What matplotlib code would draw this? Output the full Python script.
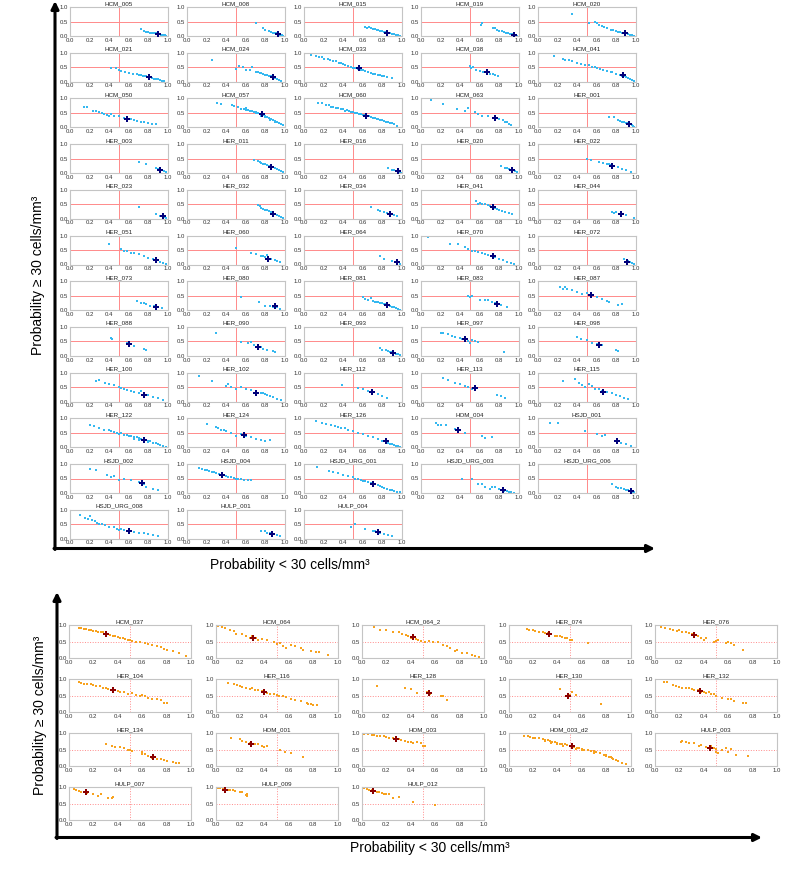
"""==============================================================
# Libraries
=============================================================="""
import matplotlib
matplotlib.use("Agg")
import matplotlib.pyplot as plt
from matplotlib.ticker import FormatStrFormatter

"""==============================================================
# Data (read from the reference picture)
=============================================================="""
# upper block (blue), 5 columns
top_names = [
    "HCM_005", "HCM_008", "HCM_015", "HCM_019", "HCM_020",
    "HCM_021", "HCM_024", "HCM_033", "HCM_038", "HCM_041",
    "HCM_050", "HCM_057", "HCM_060", "HCM_063", "HER_001",
    "HER_003", "HER_011", "HER_016", "HER_020", "HER_022",
    "HER_023", "HER_032", "HER_034", "HER_041", "HER_044",
    "HER_051", "HER_060", "HER_064", "HER_070", "HER_072",
    "HER_073", "HER_080", "HER_081", "HER_083", "HER_087",
    "HER_088", "HER_090", "HER_093", "HER_097", "HER_098",
    "HER_100", "HER_102", "HER_112", "HER_113", "HER_115",
    "HER_122", "HER_124", "HER_126", "HOM_004", "HSJD_001",
    "HSJD_002", "HSJD_004", "HSJD_URG_001", "HSJD_URG_003", "HSJD_URG_006",
    "HSJD_URG_008", "HULP_001", "HULP_004",
]

top_x = [
    [0.72, 0.76, 0.78, 0.80, 0.82, 0.84, 0.86, 0.88, 0.90, 0.91, 0.92, 0.93, 0.94, 0.95, 0.96, 0.97, 0.98],
    [0.70, 0.78, 0.80, 0.84, 0.86, 0.88, 0.90, 0.91, 0.92, 0.93, 0.94, 0.95, 0.96, 0.97, 0.98],
    [0.62, 0.64, 0.66, 0.68, 0.70, 0.72, 0.74, 0.76, 0.78, 0.80, 0.82, 0.84, 0.86, 0.88, 0.90, 0.92, 0.94, 0.96, 0.98],
    [0.61, 0.62, 0.73, 0.75, 0.78, 0.80, 0.83, 0.85, 0.87, 0.89, 0.91, 0.93, 0.95, 0.96, 0.97, 0.98],
    [0.35, 0.52, 0.58, 0.60, 0.62, 0.65, 0.67, 0.70, 0.74, 0.77, 0.80, 0.82, 0.84, 0.86, 0.88, 0.90, 0.92, 0.94, 0.96, 0.98],
    [0.42, 0.47, 0.50, 0.52, 0.56, 0.60, 0.64, 0.68, 0.70, 0.72, 0.74, 0.76, 0.78, 0.80, 0.82, 0.84, 0.86, 0.88, 0.90, 0.92, 0.94, 0.96],
    [0.25, 0.50, 0.53, 0.57, 0.60, 0.64, 0.66, 0.70, 0.72, 0.74, 0.76, 0.78, 0.80, 0.82, 0.84, 0.86, 0.88, 0.90, 0.92, 0.94, 0.96],
    [0.07, 0.12, 0.15, 0.18, 0.20, 0.24, 0.27, 0.30, 0.33, 0.36, 0.38, 0.40, 0.42, 0.45, 0.48, 0.50, 0.52, 0.55, 0.58, 0.60,
     0.62, 0.65, 0.68, 0.70, 0.72, 0.75, 0.78, 0.80, 0.82, 0.85, 0.90],
    [0.50, 0.51, 0.53, 0.56, 0.60, 0.63, 0.67, 0.70, 0.73, 0.76, 0.79],
    [0.16, 0.25, 0.28, 0.32, 0.35, 0.40, 0.44, 0.48, 0.52, 0.55, 0.58, 0.60, 0.63, 0.66, 0.70, 0.74, 0.76, 0.80, 0.84, 0.86,
     0.88, 0.90, 0.92, 0.94, 0.96, 0.98],
    [0.14, 0.17, 0.23, 0.27, 0.30, 0.33, 0.35, 0.38, 0.40, 0.42, 0.45, 0.50, 0.55, 0.58, 0.62, 0.65, 0.68, 0.72, 0.76, 0.80, 0.84, 0.88],
    [0.31, 0.35, 0.46, 0.48, 0.52, 0.55, 0.58, 0.60, 0.62, 0.64, 0.66, 0.68, 0.70, 0.72, 0.74, 0.76, 0.78, 0.80, 0.82, 0.84,
     0.86, 0.88, 0.90, 0.92, 0.94, 0.96, 0.98, 0.60, 0.65, 0.70, 0.75, 0.80, 0.85, 0.90],
    [0.14, 0.18, 0.22, 0.25, 0.28, 0.30, 0.33, 0.35, 0.38, 0.40, 0.42, 0.44, 0.46, 0.48, 0.50, 0.52, 0.54, 0.56, 0.58, 0.60,
     0.62, 0.64, 0.66, 0.68, 0.70, 0.72, 0.74, 0.76, 0.78, 0.80, 0.82, 0.84, 0.86, 0.88, 0.90, 0.92, 0.95],
    [0.10, 0.22, 0.37, 0.45, 0.48, 0.55, 0.58, 0.62, 0.68, 0.75, 0.80, 0.84, 0.86, 0.88, 0.90, 0.92],
    [0.72, 0.78, 0.82, 0.84, 0.86, 0.88, 0.90, 0.92, 0.94, 0.96, 0.97, 0.98],
    [0.70, 0.78, 0.88, 0.90, 0.92, 0.94, 0.96, 0.98],
    [0.68, 0.72, 0.74, 0.76, 0.78, 0.80, 0.82, 0.84, 0.86, 0.88, 0.90, 0.92, 0.94, 0.96, 0.98],
    [0.86, 0.90, 0.92, 0.94, 0.95, 0.96, 0.97, 0.98, 0.99],
    [0.82, 0.86, 0.88, 0.90, 0.92, 0.94, 0.96, 0.98],
    [0.50, 0.54, 0.62, 0.66, 0.70, 0.72, 0.74, 0.78, 0.82, 0.86, 0.90, 0.95],
    [0.70, 0.88, 0.92, 0.94, 0.96, 0.98],
    [0.72, 0.74, 0.76, 0.78, 0.80, 0.82, 0.84, 0.86, 0.88, 0.90, 0.92, 0.94, 0.96, 0.98],
    [0.68, 0.75, 0.78, 0.82, 0.85, 0.88, 0.90, 0.92, 0.95],
    [0.56, 0.58, 0.60, 0.62, 0.65, 0.68, 0.70, 0.72, 0.75, 0.78, 0.80, 0.83, 0.86, 0.90, 0.93],
    [0.75, 0.78, 0.80, 0.84, 0.86, 0.90, 0.98],
    [0.40, 0.52, 0.55, 0.58, 0.62, 0.65, 0.70, 0.75, 0.80, 0.85, 0.88, 0.92, 0.95, 0.98],
    [0.50, 0.65, 0.70, 0.75, 0.78, 0.80, 0.82, 0.86, 0.90, 0.92, 0.95],
    [0.78, 0.82, 0.90, 0.95, 0.98],
    [0.07, 0.30, 0.38, 0.45, 0.48, 0.52, 0.55, 0.58, 0.62, 0.65, 0.68, 0.72, 0.76, 0.80, 0.84, 0.88, 0.92, 0.95],
    [0.88, 0.92, 0.94, 0.96, 0.98],
    [0.68, 0.72, 0.75, 0.78, 0.82, 0.86, 0.90, 0.94],
    [0.55, 0.73, 0.80, 0.85, 0.88, 0.92, 0.95],
    [0.60, 0.62, 0.65, 0.68, 0.70, 0.72, 0.74, 0.76, 0.78, 0.80, 0.82, 0.84, 0.86, 0.88, 0.90, 0.92, 0.94, 0.96, 0.98],
    [0.48, 0.50, 0.52, 0.60, 0.65, 0.68, 0.72, 0.75, 0.78, 0.82, 0.88],
    [0.22, 0.25, 0.28, 0.30, 0.35, 0.40, 0.45, 0.50, 0.55, 0.60, 0.65, 0.70, 0.72, 0.82, 0.86],
    [0.42, 0.43, 0.58, 0.65, 0.75, 0.78],
    [0.30, 0.55, 0.62, 0.65, 0.68, 0.75, 0.78, 0.82, 0.88, 0.90],
    [0.78, 0.80, 0.84, 0.86, 0.88, 0.90, 0.92, 0.94, 0.96, 0.98],
    [0.20, 0.22, 0.28, 0.32, 0.35, 0.40, 0.42, 0.45, 0.48, 0.50, 0.52, 0.55, 0.58, 0.85],
    [0.40, 0.44, 0.50, 0.55, 0.60, 0.65, 0.80, 0.82],
    [0.27, 0.30, 0.36, 0.40, 0.45, 0.50, 0.52, 0.55, 0.58, 0.62, 0.65, 0.70, 0.72, 0.75, 0.80, 0.85, 0.90, 0.95],
    [0.12, 0.26, 0.40, 0.42, 0.45, 0.50, 0.55, 0.60, 0.65, 0.70, 0.75, 0.78, 0.80, 0.82, 0.85, 0.88, 0.92, 0.96],
    [0.39, 0.55, 0.60, 0.65, 0.70, 0.75, 0.80, 0.85],
    [0.22, 0.28, 0.35, 0.40, 0.45, 0.48, 0.52, 0.55, 0.78, 0.82, 0.86],
    [0.26, 0.38, 0.42, 0.45, 0.48, 0.52, 0.55, 0.58, 0.62, 0.65, 0.70, 0.75, 0.80, 0.84, 0.88, 0.92],
    [0.20, 0.24, 0.30, 0.35, 0.40, 0.42, 0.45, 0.48, 0.50, 0.52, 0.55, 0.58, 0.60, 0.62, 0.65, 0.68, 0.70, 0.72, 0.75, 0.78,
     0.80, 0.82, 0.85, 0.88, 0.90, 0.92, 0.95, 0.98, 0.65, 0.70, 0.75, 0.80],
    [0.20, 0.30, 0.32, 0.35, 0.38, 0.40, 0.45, 0.50, 0.55, 0.58, 0.60, 0.65, 0.70, 0.75, 0.80, 0.85],
    [0.12, 0.18, 0.22, 0.28, 0.32, 0.35, 0.38, 0.42, 0.45, 0.50, 0.55, 0.60, 0.65, 0.70, 0.75, 0.80, 0.84, 0.86, 0.88, 0.90,
     0.92, 0.94, 0.96, 0.98],
    [0.15, 0.17, 0.20, 0.25, 0.35, 0.38, 0.45, 0.62, 0.65, 0.72],
    [0.12, 0.20, 0.48, 0.60, 0.65, 0.68, 0.80, 0.85, 0.90, 0.95],
    [0.20, 0.27, 0.38, 0.42, 0.45, 0.50, 0.55, 0.62, 0.70, 0.75, 0.78, 0.85, 0.90],
    [0.12, 0.15, 0.18, 0.20, 0.22, 0.25, 0.28, 0.30, 0.33, 0.36, 0.40, 0.42, 0.45, 0.48, 0.50, 0.52, 0.55, 0.58, 0.62, 0.65],
    [0.13, 0.25, 0.30, 0.35, 0.40, 0.45, 0.50, 0.52, 0.55, 0.58, 0.60, 0.62, 0.65, 0.68, 0.70, 0.72, 0.75, 0.78, 0.80, 0.82,
     0.85, 0.88, 0.90, 0.92, 0.95, 0.98],
    [0.42, 0.52, 0.58, 0.62, 0.65, 0.70, 0.72, 0.75, 0.80, 0.85, 0.88, 0.90, 0.92, 0.95],
    [0.75, 0.80, 0.82, 0.85, 0.88, 0.90, 0.92, 0.94, 0.96, 0.98],
    [0.10, 0.15, 0.18, 0.20, 0.22, 0.25, 0.28, 0.30, 0.33, 0.36, 0.40, 0.45, 0.48, 0.50, 0.52, 0.55, 0.58, 0.62, 0.65, 0.70,
     0.75, 0.80, 0.85, 0.90],
    [0.75, 0.80, 0.82, 0.85, 0.88, 0.92, 0.95],
    [0.48, 0.52, 0.62, 0.70, 0.72, 0.75, 0.78, 0.82, 0.86, 0.90],
]

top_y = [
    [0.24, 0.18, 0.14, 0.14, 0.12, 0.12, 0.10, 0.09, 0.08, 0.07, 0.06, 0.05, 0.04, 0.03, 0.03, 0.02, 0.01],
    [0.44, 0.26, 0.20, 0.16, 0.13, 0.12, 0.10, 0.09, 0.08, 0.07, 0.06, 0.05, 0.04, 0.02, 0.01],
    [0.32, 0.28, 0.30, 0.26, 0.25, 0.24, 0.22, 0.20, 0.18, 0.17, 0.15, 0.13, 0.12, 0.10, 0.08, 0.06, 0.04, 0.03, 0.01],
    [0.37, 0.44, 0.26, 0.28, 0.22, 0.18, 0.16, 0.13, 0.12, 0.10, 0.08, 0.07, 0.05, 0.04, 0.02, 0.01],
    [0.75, 0.45, 0.48, 0.45, 0.38, 0.35, 0.30, 0.28, 0.22, 0.20, 0.16, 0.15, 0.13, 0.12, 0.10, 0.09, 0.07, 0.05, 0.03, 0.01],
    [0.48, 0.46, 0.42, 0.38, 0.34, 0.30, 0.28, 0.25, 0.24, 0.22, 0.21, 0.19, 0.18, 0.16, 0.15, 0.13, 0.11, 0.09, 0.08, 0.06, 0.04, 0.02],
    [0.75, 0.45, 0.55, 0.50, 0.42, 0.40, 0.52, 0.35, 0.32, 0.30, 0.30, 0.27, 0.24, 0.22, 0.20, 0.18, 0.16, 0.12, 0.09, 0.06, 0.03],
    [0.93, 0.88, 0.86, 0.84, 0.80, 0.78, 0.74, 0.72, 0.70, 0.66, 0.63, 0.62, 0.58, 0.55, 0.50, 0.48, 0.46, 0.44, 0.42, 0.40,
     0.36, 0.34, 0.30, 0.28, 0.28, 0.24, 0.22, 0.20, 0.18, 0.16, 0.12],
    [0.55, 0.48, 0.50, 0.42, 0.38, 0.34, 0.30, 0.28, 0.25, 0.22, 0.20],
    [0.88, 0.80, 0.76, 0.74, 0.70, 0.64, 0.62, 0.58, 0.56, 0.52, 0.50, 0.48, 0.45, 0.42, 0.38, 0.32, 0.34, 0.28, 0.22, 0.20,
     0.18, 0.15, 0.12, 0.08, 0.05, 0.02],
    [0.70, 0.70, 0.58, 0.56, 0.52, 0.50, 0.45, 0.42, 0.40, 0.45, 0.40, 0.38, 0.34, 0.30, 0.28, 0.25, 0.22, 0.20, 0.18, 0.15, 0.12, 0.10],
    [0.84, 0.80, 0.76, 0.73, 0.70, 0.65, 0.62, 0.60, 0.60, 0.56, 0.55, 0.52, 0.50, 0.48, 0.46, 0.44, 0.42, 0.38, 0.36, 0.32,
     0.30, 0.26, 0.22, 0.18, 0.16, 0.12, 0.08, 0.66, 0.58, 0.52, 0.40, 0.36, 0.24, 0.18],
    [0.85, 0.84, 0.78, 0.76, 0.72, 0.72, 0.68, 0.66, 0.64, 0.62, 0.58, 0.60, 0.56, 0.54, 0.52, 0.50, 0.50, 0.47, 0.46, 0.44,
     0.42, 0.40, 0.38, 0.36, 0.34, 0.32, 0.30, 0.28, 0.26, 0.24, 0.22, 0.20, 0.18, 0.16, 0.14, 0.10, 0.06],
    [0.95, 0.82, 0.62, 0.58, 0.68, 0.54, 0.46, 0.40, 0.38, 0.30, 0.28, 0.24, 0.20, 0.18, 0.12, 0.08],
    [0.35, 0.36, 0.25, 0.22, 0.20, 0.18, 0.16, 0.14, 0.10, 0.07, 0.05, 0.03],
    [0.40, 0.32, 0.16, 0.14, 0.12, 0.10, 0.06, 0.03],
    [0.45, 0.42, 0.38, 0.36, 0.32, 0.30, 0.28, 0.26, 0.24, 0.20, 0.16, 0.14, 0.10, 0.06, 0.03],
    [0.16, 0.12, 0.10, 0.08, 0.06, 0.05, 0.04, 0.03, 0.02],
    [0.26, 0.18, 0.16, 0.14, 0.12, 0.10, 0.06, 0.03],
    [0.48, 0.46, 0.38, 0.35, 0.32, 0.30, 0.28, 0.24, 0.20, 0.15, 0.12, 0.05],
    [0.40, 0.15, 0.10, 0.08, 0.05, 0.03],
    [0.48, 0.45, 0.38, 0.35, 0.32, 0.30, 0.26, 0.24, 0.20, 0.15, 0.12, 0.08, 0.05, 0.02],
    [0.40, 0.30, 0.28, 0.22, 0.20, 0.18, 0.15, 0.12, 0.08],
    [0.60, 0.52, 0.55, 0.50, 0.50, 0.46, 0.45, 0.42, 0.38, 0.35, 0.32, 0.28, 0.24, 0.20, 0.15],
    [0.22, 0.20, 0.22, 0.18, 0.15, 0.12, 0.03],
    [0.70, 0.55, 0.48, 0.45, 0.40, 0.38, 0.35, 0.28, 0.22, 0.18, 0.15, 0.10, 0.06, 0.03],
    [0.57, 0.38, 0.35, 0.30, 0.28, 0.25, 0.32, 0.20, 0.15, 0.12, 0.08],
    [0.30, 0.20, 0.12, 0.08, 0.03],
    [0.95, 0.72, 0.72, 0.62, 0.55, 0.48, 0.45, 0.42, 0.40, 0.35, 0.32, 0.28, 0.25, 0.20, 0.15, 0.10, 0.06, 0.03],
    [0.18, 0.12, 0.08, 0.05, 0.03],
    [0.32, 0.26, 0.24, 0.22, 0.16, 0.14, 0.10, 0.06],
    [0.47, 0.28, 0.16, 0.15, 0.12, 0.10, 0.05],
    [0.45, 0.40, 0.35, 0.42, 0.32, 0.30, 0.28, 0.30, 0.26, 0.25, 0.22, 0.20, 0.18, 0.15, 0.12, 0.10, 0.08, 0.05, 0.02],
    [0.48, 0.46, 0.50, 0.36, 0.34, 0.35, 0.30, 0.25, 0.22, 0.18, 0.12],
    [0.80, 0.74, 0.80, 0.72, 0.68, 0.62, 0.55, 0.58, 0.52, 0.45, 0.38, 0.32, 0.28, 0.18, 0.22],
    [0.62, 0.58, 0.44, 0.35, 0.25, 0.22],
    [0.78, 0.48, 0.45, 0.48, 0.36, 0.30, 0.25, 0.22, 0.16, 0.14],
    [0.28, 0.22, 0.20, 0.18, 0.15, 0.12, 0.10, 0.08, 0.05, 0.03],
    [0.80, 0.80, 0.74, 0.68, 0.66, 0.62, 0.60, 0.58, 0.50, 0.45, 0.55, 0.50, 0.48, 0.14],
    [0.65, 0.58, 0.56, 0.45, 0.40, 0.38, 0.22, 0.18],
    [0.72, 0.74, 0.64, 0.62, 0.56, 0.50, 0.48, 0.42, 0.40, 0.35, 0.32, 0.30, 0.38, 0.28, 0.22, 0.15, 0.12, 0.05],
    [0.88, 0.70, 0.55, 0.60, 0.50, 0.45, 0.50, 0.42, 0.40, 0.35, 0.30, 0.28, 0.25, 0.22, 0.18, 0.15, 0.10, 0.05],
    [0.56, 0.48, 0.42, 0.38, 0.32, 0.25, 0.20, 0.12],
    [0.80, 0.74, 0.65, 0.60, 0.55, 0.50, 0.45, 0.48, 0.22, 0.18, 0.14],
    [0.72, 0.78, 0.65, 0.58, 0.52, 0.60, 0.55, 0.45, 0.42, 0.38, 0.34, 0.28, 0.22, 0.18, 0.12, 0.08],
    [0.78, 0.74, 0.65, 0.60, 0.58, 0.55, 0.52, 0.50, 0.46, 0.48, 0.44, 0.42, 0.40, 0.38, 0.36, 0.34, 0.32, 0.30, 0.28, 0.25,
     0.22, 0.20, 0.16, 0.14, 0.10, 0.08, 0.05, 0.02, 0.30, 0.26, 0.22, 0.18],
    [0.82, 0.70, 0.65, 0.60, 0.58, 0.55, 0.50, 0.40, 0.45, 0.42, 0.38, 0.35, 0.30, 0.25, 0.20, 0.25],
    [0.90, 0.85, 0.80, 0.76, 0.75, 0.70, 0.68, 0.65, 0.60, 0.55, 0.50, 0.45, 0.40, 0.35, 0.28, 0.22, 0.18, 0.15, 0.12, 0.10,
     0.08, 0.06, 0.04, 0.02],
    [0.85, 0.76, 0.78, 0.76, 0.62, 0.55, 0.50, 0.40, 0.32, 0.35],
    [0.85, 0.85, 0.55, 0.45, 0.38, 0.42, 0.20, 0.15, 0.10, 0.06],
    [0.82, 0.80, 0.62, 0.55, 0.58, 0.45, 0.50, 0.45, 0.38, 0.30, 0.22, 0.15, 0.10],
    [0.85, 0.82, 0.78, 0.80, 0.76, 0.72, 0.72, 0.68, 0.65, 0.62, 0.60, 0.56, 0.55, 0.52, 0.50, 0.48, 0.50, 0.45, 0.46, 0.44],
    [0.88, 0.76, 0.72, 0.68, 0.62, 0.58, 0.55, 0.50, 0.48, 0.45, 0.42, 0.40, 0.38, 0.35, 0.32, 0.30, 0.26, 0.24, 0.20, 0.18,
     0.15, 0.12, 0.10, 0.08, 0.05, 0.02],
    [0.48, 0.48, 0.30, 0.32, 0.20, 0.15, 0.20, 0.22, 0.15, 0.08, 0.06, 0.05, 0.03, 0.01],
    [0.32, 0.20, 0.18, 0.16, 0.14, 0.12, 0.10, 0.06, 0.04, 0.02],
    [0.82, 0.72, 0.68, 0.80, 0.65, 0.60, 0.55, 0.52, 0.50, 0.48, 0.42, 0.40, 0.35, 0.30, 0.32, 0.30, 0.28, 0.25, 0.22, 0.20,
     0.18, 0.15, 0.12, 0.08],
    [0.25, 0.25, 0.20, 0.18, 0.15, 0.12, 0.08],
    [0.42, 0.50, 0.32, 0.28, 0.25, 0.22, 0.20, 0.15, 0.12, 0.08],
]

top_mean_x = [0.90, 0.93, 0.85, 0.95, 0.89, 0.81, 0.88, 0.56, 0.67, 0.87,
              0.58, 0.77, 0.63, 0.75, 0.93, 0.92, 0.86, 0.96, 0.93, 0.75,
              0.95, 0.88, 0.88, 0.73, 0.85, 0.88, 0.83, 0.95, 0.73, 0.91,
              0.88, 0.90, 0.85, 0.78, 0.54, 0.60, 0.72, 0.91, 0.45, 0.62,
              0.76, 0.70, 0.69, 0.55, 0.66, 0.75, 0.58, 0.84, 0.38, 0.81,
              0.73, 0.36, 0.70, 0.84, 0.95, 0.60, 0.87, 0.76]
top_mean_y = [0.08, 0.07, 0.10, 0.05, 0.10, 0.15, 0.16, 0.47, 0.32, 0.22,
              0.28, 0.45, 0.40, 0.32, 0.10, 0.12, 0.22, 0.06, 0.11, 0.23,
              0.08, 0.17, 0.16, 0.42, 0.15, 0.14, 0.20, 0.08, 0.30, 0.10,
              0.10, 0.15, 0.18, 0.22, 0.53, 0.40, 0.30, 0.11, 0.57, 0.38,
              0.24, 0.30, 0.32, 0.46, 0.32, 0.26, 0.43, 0.20, 0.58, 0.20,
              0.33, 0.62, 0.32, 0.12, 0.06, 0.26, 0.17, 0.22]

# lower block (orange), 5 columns
bottom_names = [
    "HCM_037", "HCM_064", "HCM_064_2", "HER_074", "HER_076",
    "HER_104", "HER_116", "HER_128", "HER_130", "HER_132",
    "HER_134", "HOM_001", "HOM_003", "HOM_003_d2", "HULP_003",
    "HULP_007", "HULP_009", "HULP_012",
]

bottom_x = [
    [0.08, 0.10, 0.12, 0.14, 0.16, 0.18, 0.20, 0.22, 0.24, 0.26, 0.28, 0.30, 0.32, 0.34, 0.36, 0.38, 0.40, 0.42, 0.44, 0.46,
     0.48, 0.50, 0.52, 0.55, 0.58, 0.62, 0.65, 0.68, 0.72, 0.75, 0.78, 0.80, 0.85, 0.90, 0.96],
    [0.02, 0.05, 0.08, 0.12, 0.15, 0.17, 0.22, 0.25, 0.28, 0.30, 0.33, 0.35, 0.38, 0.42, 0.48, 0.50, 0.53, 0.55, 0.58, 0.62,
     0.65, 0.70, 0.72, 0.78, 0.82, 0.85, 0.92],
    [0.10, 0.15, 0.20, 0.25, 0.30, 0.33, 0.36, 0.38, 0.40, 0.44, 0.46, 0.48, 0.52, 0.55, 0.58, 0.62, 0.66, 0.70, 0.72, 0.76,
     0.78, 0.82, 0.86, 0.90, 0.93, 0.96],
    [0.15, 0.17, 0.20, 0.22, 0.25, 0.28, 0.30, 0.32, 0.35, 0.38, 0.40, 0.42, 0.44, 0.46, 0.48, 0.50, 0.52, 0.65],
    [0.05, 0.08, 0.12, 0.15, 0.18, 0.20, 0.22, 0.25, 0.28, 0.30, 0.35, 0.38, 0.40, 0.42, 0.48, 0.50, 0.52, 0.58, 0.60, 0.62,
     0.65, 0.72],
    [0.08, 0.10, 0.12, 0.15, 0.18, 0.20, 0.22, 0.25, 0.28, 0.30, 0.32, 0.35, 0.38, 0.40, 0.42, 0.45, 0.48, 0.52, 0.55, 0.58,
     0.60, 0.62, 0.65, 0.68, 0.72, 0.75, 0.78, 0.80],
    [0.10, 0.15, 0.18, 0.20, 0.22, 0.25, 0.28, 0.30, 0.32, 0.35, 0.38, 0.42, 0.45, 0.48, 0.50, 0.52, 0.55, 0.58, 0.62, 0.65,
     0.70, 0.75, 0.76, 0.78, 0.80, 0.83],
    [0.12, 0.35, 0.40, 0.45, 0.53, 0.56, 0.65, 0.66, 0.70],
    [0.42, 0.48, 0.50, 0.52, 0.55, 0.76],
    [0.07, 0.10, 0.15, 0.17, 0.20, 0.22, 0.25, 0.28, 0.30, 0.32, 0.35, 0.38, 0.40, 0.42, 0.44, 0.46, 0.48, 0.50, 0.55, 0.60,
     0.62, 0.65, 0.72, 0.75],
    [0.30, 0.35, 0.38, 0.42, 0.45, 0.48, 0.50, 0.52, 0.60, 0.60, 0.62, 0.65, 0.68, 0.72, 0.75, 0.78, 0.80, 0.85, 0.88, 0.90],
    [0.13, 0.20, 0.22, 0.25, 0.28, 0.32, 0.35, 0.38, 0.40, 0.42, 0.53, 0.57, 0.62, 0.72],
    [0.02, 0.05, 0.08, 0.10, 0.12, 0.15, 0.18, 0.20, 0.22, 0.25, 0.28, 0.30, 0.32, 0.35, 0.38, 0.40, 0.42, 0.45, 0.48, 0.50,
     0.52],
    [0.13, 0.16, 0.18, 0.20, 0.22, 0.25, 0.28, 0.30, 0.32, 0.34, 0.36, 0.38, 0.40, 0.42, 0.44, 0.46, 0.48, 0.50, 0.52, 0.54,
     0.56, 0.58, 0.60, 0.62, 0.65, 0.68, 0.70, 0.72, 0.75, 0.78, 0.80, 0.82, 0.84, 0.86, 0.88, 0.90, 0.93, 0.96,
     0.30, 0.35, 0.40, 0.45, 0.55, 0.60, 0.70, 0.80, 0.85],
    [0.21, 0.22, 0.25, 0.28, 0.32, 0.36, 0.38, 0.42, 0.46, 0.48, 0.50, 0.50, 0.52, 0.55, 0.58, 0.60, 0.62, 0.66, 0.76],
    [0.04, 0.06, 0.08, 0.10, 0.12, 0.15, 0.20, 0.24, 0.26, 0.32, 0.35, 0.36],
    [0.02, 0.04, 0.06, 0.08, 0.10, 0.12, 0.14, 0.16, 0.20, 0.22, 0.25, 0.26, 0.26],
    [0.02, 0.04, 0.06, 0.08, 0.10, 0.12, 0.14, 0.16, 0.18, 0.20, 0.22, 0.25, 0.30, 0.42, 0.60],
]

bottom_y = [
    [0.92, 0.90, 0.88, 0.87, 0.86, 0.84, 0.83, 0.82, 0.80, 0.78, 0.78, 0.75, 0.72, 0.70, 0.68, 0.66, 0.64, 0.62, 0.60, 0.58,
     0.56, 0.55, 0.52, 0.50, 0.48, 0.44, 0.42, 0.40, 0.36, 0.32, 0.28, 0.25, 0.22, 0.15, 0.05],
    [0.98, 0.95, 0.90, 0.86, 0.82, 0.72, 0.72, 0.66, 0.62, 0.66, 0.60, 0.55, 0.58, 0.55, 0.48, 0.42, 0.44, 0.36, 0.30, 0.40,
     0.36, 0.30, 0.24, 0.22, 0.18, 0.18, 0.10],
    [0.95, 0.85, 0.84, 0.80, 0.78, 0.72, 0.70, 0.68, 0.62, 0.58, 0.55, 0.52, 0.50, 0.52, 0.48, 0.48, 0.40, 0.35, 0.30, 0.22,
     0.25, 0.16, 0.15, 0.10, 0.05, 0.03],
    [0.88, 0.85, 0.84, 0.82, 0.80, 0.78, 0.76, 0.75, 0.72, 0.68, 0.66, 0.68, 0.64, 0.62, 0.60, 0.55, 0.55, 0.45],
    [0.95, 0.90, 0.88, 0.86, 0.82, 0.84, 0.80, 0.78, 0.75, 0.74, 0.68, 0.62, 0.55, 0.62, 0.50, 0.52, 0.55, 0.45, 0.48, 0.46,
     0.40, 0.25],
    [0.92, 0.88, 0.86, 0.85, 0.84, 0.82, 0.80, 0.78, 0.74, 0.72, 0.70, 0.68, 0.66, 0.64, 0.62, 0.60, 0.55, 0.58, 0.52, 0.50,
     0.52, 0.48, 0.42, 0.40, 0.38, 0.35, 0.28, 0.26],
    [0.88, 0.86, 0.82, 0.80, 0.76, 0.72, 0.70, 0.72, 0.68, 0.66, 0.64, 0.58, 0.56, 0.55, 0.52, 0.50, 0.48, 0.45, 0.40, 0.35,
     0.32, 0.28, 0.25, 0.24, 0.22, 0.22],
    [0.80, 0.72, 0.70, 0.58, 0.60, 0.55, 0.48, 0.50, 0.35],
    [0.70, 0.48, 0.52, 0.60, 0.52, 0.24],
    [0.92, 0.90, 0.82, 0.78, 0.76, 0.74, 0.74, 0.72, 0.70, 0.68, 0.66, 0.62, 0.62, 0.58, 0.60, 0.56, 0.54, 0.48, 0.42, 0.38,
     0.40, 0.32, 0.26, 0.28],
    [0.68, 0.62, 0.58, 0.58, 0.55, 0.50, 0.47, 0.44, 0.42, 0.35, 0.35, 0.30, 0.25, 0.22, 0.20, 0.18, 0.15, 0.12, 0.10, 0.10],
    [0.85, 0.82, 0.76, 0.72, 0.70, 0.68, 0.66, 0.62, 0.58, 0.62, 0.50, 0.42, 0.40, 0.28],
    [0.98, 0.96, 0.95, 0.94, 0.92, 0.90, 0.90, 0.88, 0.86, 0.85, 0.84, 0.82, 0.78, 0.76, 0.74, 0.72, 0.70, 0.72, 0.70, 0.62,
     0.60],
    [0.92, 0.90, 0.88, 0.86, 0.86, 0.84, 0.82, 0.80, 0.78, 0.76, 0.74, 0.72, 0.70, 0.68, 0.66, 0.66, 0.64, 0.62, 0.60, 0.58,
     0.56, 0.54, 0.52, 0.50, 0.48, 0.46, 0.44, 0.42, 0.38, 0.34, 0.32, 0.28, 0.26, 0.22, 0.18, 0.15, 0.10, 0.06,
     0.75, 0.70, 0.68, 0.62, 0.52, 0.48, 0.40, 0.30, 0.24],
    [0.74, 0.76, 0.72, 0.70, 0.70, 0.62, 0.64, 0.58, 0.62, 0.55, 0.52, 0.42, 0.40, 0.48, 0.55, 0.42, 0.52, 0.32, 0.30],
    [0.93, 0.92, 0.88, 0.86, 0.84, 0.82, 0.80, 0.74, 0.78, 0.68, 0.68, 0.70],
    [0.98, 0.96, 0.95, 0.94, 0.92, 0.90, 0.90, 0.88, 0.86, 0.84, 0.75, 0.72, 0.80],
    [0.96, 0.94, 0.92, 0.90, 0.88, 0.86, 0.84, 0.82, 0.80, 0.78, 0.78, 0.68, 0.70, 0.56, 0.44],
]

bottom_mean_x = [0.30, 0.31, 0.42, 0.33, 0.32,
                 0.36, 0.40, 0.55, 0.49, 0.37,
                 0.69, 0.29, 0.28, 0.52, 0.45,
                 0.14, 0.08, 0.09]
bottom_mean_y = [0.72, 0.62, 0.63, 0.73, 0.71,
                 0.68, 0.60, 0.57, 0.50, 0.63,
                 0.28, 0.68, 0.82, 0.62, 0.55,
                 0.86, 0.92, 0.87]

x_ticks = [0.0, 0.2, 0.4, 0.6, 0.8, 1.0]
y_ticks = [0.0, 0.5, 1.0]

"""==============================================================
# Figure setup
=============================================================="""
FIG_W, FIG_H = 792, 874
plt.rcParams["font.family"] = ["Liberation Sans", "DejaVu Sans"]

fig = plt.figure(figsize=(FIG_W / 100, FIG_H / 100), dpi=100)


def pixel_axes(left, top, width, height):
    # axes placed with pixel coordinates measured from the top-left corner
    return fig.add_axes([left / FIG_W, 1 - (top + height) / FIG_H,
                         width / FIG_W, height / FIG_H])


def draw_panel(ax, name, xs, ys, mx, my, point_color, mean_color, ref_style):
    ax.axvline(0.5, color="#ff8a8a", lw=0.7, ls=ref_style, zorder=1)
    ax.axhline(0.5, color="#ff8a8a", lw=0.7, ls=ref_style, zorder=1)
    ax.scatter(xs, ys, s=1.6, marker="s", color=point_color, linewidths=0, zorder=2)
    ax.scatter([mx], [my], s=16, marker="P", color=mean_color, linewidths=0, zorder=3)

    ax.set_xlim(0, 1)
    ax.set_ylim(0, 1)
    ax.set_xticks(x_ticks)
    ax.set_yticks(y_ticks)
    ax.xaxis.set_major_formatter(FormatStrFormatter("%.1f"))
    ax.yaxis.set_major_formatter(FormatStrFormatter("%.1f"))
    ax.tick_params(length=0, labelsize=4.3, pad=1.2, colors="#333333")
    for spine in ax.spines.values():
        spine.set_color("#c4c4c4")
        spine.set_linewidth(0.8)
    ax.set_title(name, fontsize=4.5, pad=1.5, color="#222222")


"""==============================================================
# Upper block (blue)
=============================================================="""
for i, name in enumerate(top_names):
    row, col = divmod(i, 5)
    ax = pixel_axes(70 + 117 * col, 7 + 45.7 * row, 98, 29)
    draw_panel(ax, name, top_x[i], top_y[i], top_mean_x[i], top_mean_y[i],
               "#35b8f0", "#00007a", "-")

"""==============================================================
# Lower block (orange)
=============================================================="""
for i, name in enumerate(bottom_names):
    row, col = divmod(i, 5)
    ax = pixel_axes(69 + 146.5 * col, 625 + 54 * row, 122, 33)
    draw_panel(ax, name, bottom_x[i], bottom_y[i], bottom_mean_x[i], bottom_mean_y[i],
               "#f7a21e", "#8b0000", ":")

"""==============================================================
# Big arrows and axis labels
=============================================================="""
overlay = fig.add_axes([0, 0, 1, 1], zorder=-1)
overlay.set_xlim(0, FIG_W)
overlay.set_ylim(FIG_H, 0)
overlay.axis("off")

arrow_kw = dict(arrowstyle="-|>", lw=2.2, color="black",
                mutation_scale=11, shrinkA=0, shrinkB=0)

# upper block
overlay.annotate("", xy=(55, 1), xytext=(55, 549.5), arrowprops=arrow_kw)
overlay.annotate("", xy=(655, 548.5), xytext=(54, 548.5), arrowprops=arrow_kw)
overlay.text(38, 275, "Probability \u2265 30 cells/mm\u00b3", rotation=90,
             ha="center", va="center", fontsize=10)
overlay.text(290, 565, "Probability < 30 cells/mm\u00b3",
             ha="center", va="center", fontsize=10)

# lower block
overlay.annotate("", xy=(57, 592), xytext=(57, 838.5), arrowprops=arrow_kw)
overlay.annotate("", xy=(762, 837.5), xytext=(56, 837.5), arrowprops=arrow_kw)
overlay.text(40, 715, "Probability \u2265 30 cells/mm\u00b3", rotation=90,
             ha="center", va="center", fontsize=10)
overlay.text(430, 848, "Probability < 30 cells/mm\u00b3",
             ha="center", va="center", fontsize=10)

fig.savefig("out.png", dpi=100)
